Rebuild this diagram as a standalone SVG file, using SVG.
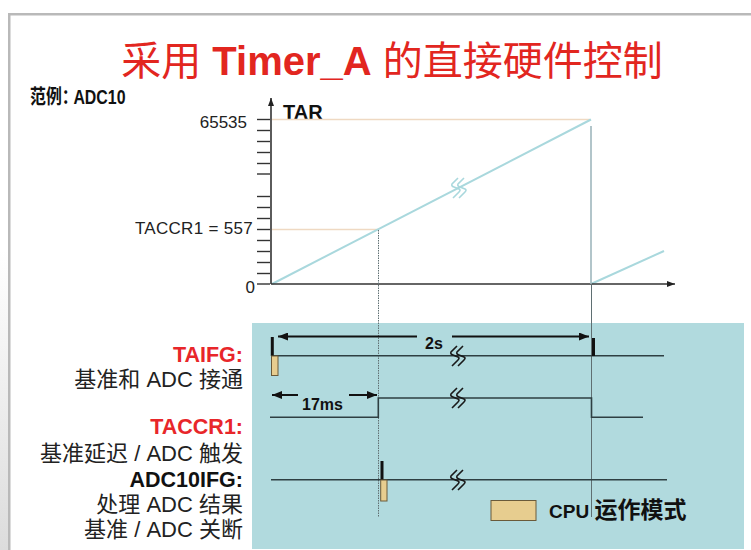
<svg xmlns="http://www.w3.org/2000/svg" xmlns:xlink="http://www.w3.org/1999/xlink" width="751" height="550" viewBox="0 0 751 550">
<style>
  text { font-family: "Liberation Sans", "Noto Sans CJK SC", sans-serif; }
  .title { font-size: 40px; fill: #e2261f; }
  .b { font-weight: bold; }
  .lbl { font-size: 22px; fill: #222; text-anchor: end; }
  .red { fill: #e8262a; font-weight: bold; font-size: 21.5px; }
  .blk { fill: #111; font-weight: bold; font-size: 21.5px; }
  .ax { stroke: #333; stroke-width: 1.6; fill: none; }
  .tick { stroke: #333; stroke-width: 1.4; }
  .guide { stroke: #efd9c2; stroke-width: 1.5; }
  .ramp { stroke: #a9d8dd; stroke-width: 2; fill: none; }
  .sig { stroke: #2e3f42; stroke-width: 1.6; fill: none; }
  .vline { stroke: #5f6f72; stroke-width: 1; }
  .mark { stroke: #111; stroke-width: 3; }
  .cpu { fill: #e7cd8f; stroke: #6a5a3a; stroke-width: 1; }
  .dim { stroke: #111; stroke-width: 2; fill: none; }
  .brk { stroke: #1a1a1a; stroke-width: 1.6; fill: none; }
</style>
<defs>
  <linearGradient id="lg" x1="0" y1="0" x2="0" y2="1">
    <stop offset="0" stop-color="#ffffff"/>
    <stop offset="1" stop-color="#dcdcdc"/>
  </linearGradient>
  <marker id="ah" viewBox="0 0 10 8" refX="10" refY="4" markerWidth="10" markerHeight="8" markerUnits="userSpaceOnUse" orient="auto-start-reverse">
    <path d="M0,0 L10,4 L0,8 z" fill="#111"/>
  </marker>
  <marker id="axh" viewBox="0 0 8 6" refX="8" refY="3" markerWidth="8" markerHeight="6" markerUnits="userSpaceOnUse" orient="auto">
    <path d="M0,0 L8,3 L0,6 z" fill="#222"/>
  </marker>
  <g id="brk">
    <path d="M1,-10 L-5,-4 Q-6,-2 -3,-1 L2,1 Q4,2 2,4 L-4,10"/>
    <path d="M7,-10 L1,-4 Q0,-2 3,-1 L8,1 Q10,2 8,4 L2,10"/>
  </g>
</defs>

<rect x="0" y="0" width="751" height="550" fill="#ffffff"/>
<rect x="0" y="250" width="8" height="300" fill="url(#lg)"/>
<g id="frame" fill="#b9b9b9">
  <rect x="8" y="13" width="743" height="2.5"/>
  <rect x="8" y="13" width="2.5" height="537"/>
</g>

<g id="title">
  <text class="title" x="392" y="75" text-anchor="middle">采用 <tspan class="b">Timer_A</tspan> 的直接硬件控制</text>
</g>
<g id="example">
  <text transform="translate(30 104) scale(0.86 1.1)" font-size="18.5" class="b" fill="#111">范例：<tspan dx="-5">ADC10</tspan></text>
</g>

<g id="timing-bg">
  <rect x="252" y="323" width="492" height="226" fill="#b1dade"/>
</g>

<g id="chart">
  <g id="axis-labels" fill="#222" font-size="17" text-anchor="end">
    <text x="247" y="128">65535</text>
    <text x="253" y="234" letter-spacing="0.3">TACCR1 = 557</text>
    <text x="255" y="293">0</text>
  </g>
  <text id="tar" x="283" y="119" font-size="20" class="b" fill="#111">TAR</text>
  <g id="ticks" class="tick">
    <line x1="257" y1="119.5" x2="270" y2="119.5"/>
    <line x1="257" y1="130.5" x2="270" y2="130.5"/>
    <line x1="257" y1="141.5" x2="270" y2="141.5"/>
    <line x1="257" y1="152.5" x2="270" y2="152.5"/>
    <line x1="257" y1="163.5" x2="270" y2="163.5"/>
    <line x1="257" y1="174" x2="270" y2="174"/>
    <line x1="257" y1="196.5" x2="270" y2="196.5"/>
    <line x1="257" y1="207.5" x2="270" y2="207.5"/>
    <line x1="257" y1="218.5" x2="270" y2="218.5"/>
    <line x1="257" y1="229.5" x2="270" y2="229.5"/>
    <line x1="257" y1="240.5" x2="270" y2="240.5"/>
    <line x1="257" y1="251.5" x2="270" y2="251.5"/>
    <line x1="257" y1="262.5" x2="270" y2="262.5"/>
    <line x1="257" y1="273.5" x2="270" y2="273.5"/>
    <line x1="257" y1="284" x2="270" y2="284"/>
  </g>
  <g id="guides" class="guide">
    <line x1="272" y1="119.5" x2="590" y2="119.5"/>
    <line x1="272" y1="229.5" x2="378" y2="229.5"/>
  </g>
  <g id="ramp" class="ramp">
    <line x1="272" y1="284" x2="591" y2="119.5"/>
    <line x1="591" y1="284" x2="664" y2="251"/>
    <use xlink:href="#brk" transform="translate(457 188)" stroke="#a9d8dd" stroke-width="1.6"/>
  </g>
</g>

<g id="connectors">
  <line class="ax" x1="271" y1="284" x2="271" y2="98" marker-end="url(#axh)"/>
  <line class="ax" x1="271" y1="284" x2="675" y2="284" marker-end="url(#axh)"/>
  <line x1="591" y1="126" x2="591" y2="284" stroke="#9fb7bd" stroke-width="1.6"/>
  <line class="vline" x1="378.5" y1="230" x2="378.5" y2="517" stroke-dasharray="1.5 1"/>
  <line class="vline" x1="591.5" y1="284" x2="591.5" y2="517"/>
  <line class="dim" x1="417" y1="336.5" x2="278" y2="336.5" marker-end="url(#ah)"/>
  <line class="dim" x1="452" y1="336.5" x2="589" y2="336.5" marker-end="url(#ah)"/>
  <line class="dim" x1="298" y1="395" x2="272" y2="395" marker-end="url(#ah)"/>
  <line class="dim" x1="349" y1="395" x2="377" y2="395" marker-end="url(#ah)"/>
</g>

<g id="dim-labels" class="b" fill="#111" font-size="16">
  <text x="425" y="349">2s</text>
  <text x="302" y="410">17ms</text>
</g>

<g id="row-taifg">
  <line class="sig" x1="271" y1="355.8" x2="664" y2="355.8"/>
  <line class="mark" x1="272.3" y1="337" x2="272.3" y2="356"/>
  <rect class="cpu" x="271.5" y="356" width="6.5" height="19.5"/>
  <line class="mark" x1="593.5" y1="338" x2="593.5" y2="356"/>
  <use xlink:href="#brk" class="brk" x="456" y="356"/>
</g>

<g id="row-taccr1">
  <path class="sig" d="M270,417.3 H378.3 V398 H591.5 V417.3 H643"/>
  <use xlink:href="#brk" class="brk" x="456" y="398"/>
</g>

<g id="row-adc10ifg">
  <line class="sig" x1="271" y1="479.7" x2="667" y2="479.7"/>
  <line class="mark" x1="382" y1="461" x2="382" y2="480"/>
  <rect class="cpu" x="380.7" y="480" width="6.3" height="21"/>
  <use xlink:href="#brk" class="brk" x="456" y="480"/>
</g>

<g id="legend">
  <rect class="cpu" x="491" y="500.5" width="45" height="20"/>
  <text x="549" y="518" fill="#111" class="b"><tspan font-size="19">CPU </tspan><tspan font-size="23">运作模式</tspan></text>
</g>

<g id="labels" class="lbl">
  <text x="243" y="362" class="red">TAIFG:</text>
  <text x="243" y="387">基准和 ADC 接通</text>
  <text x="243" y="434" class="red">TACCR1:</text>
  <text x="243" y="461">基准延迟 / ADC 触发</text>
  <text x="243" y="487" class="blk">ADC10IFG:</text>
  <text x="243" y="512">处理 ADC 结果</text>
  <text x="243" y="537">基准 / ADC 关断</text>
</g>
</svg>
